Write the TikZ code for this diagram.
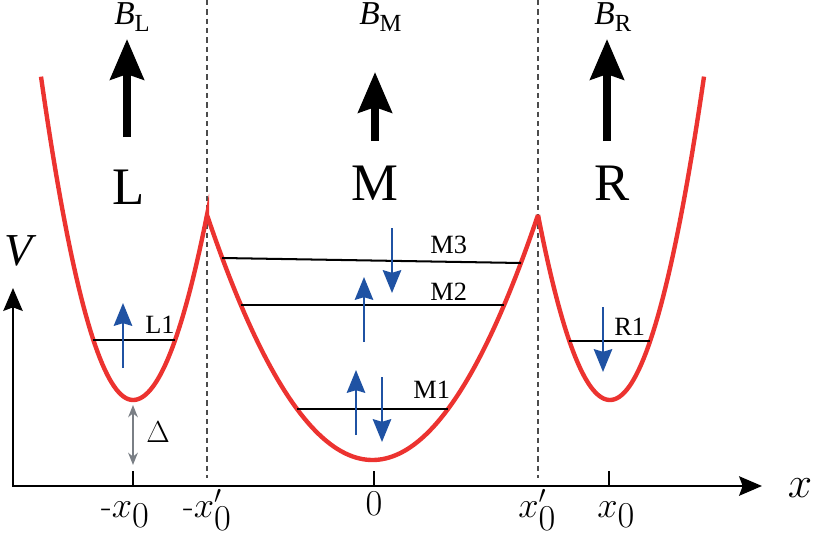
\documentclass[tikz,border=0pt]{standalone}
\usepackage{fontspec}
\newfontfamily\timesfont{Liberation Serif}
\usetikzlibrary{arrows.meta}

\definecolor{potred}{HTML}{EC3330}
\definecolor{spinblue}{HTML}{1F52A3}
\definecolor{gapgray}{HTML}{7A7F85}

\tikzset{
  redcurve/.style={draw=potred, line width=2.5pt},
  level/.style={line width=1.15pt},
  spin/.style={draw=spinblue, line width=1.2pt, -{Stealth[length=13pt,width=10.5pt,inset=1.5pt]}},
  field/.style={line width=4.5pt, -{Stealth[length=23pt,width=19pt,inset=3pt]}},
  axis/.style={line width=1.4pt, {Stealth[length=13pt,width=11pt,inset=2pt]}-{Stealth[length=13pt,width=11pt,inset=2pt]}},
  boundary/.style={draw=black!70, line width=0.7pt, dash pattern=on 3pt off 2.3pt},
  bigletter/.style={font=\timesfont\fontsize{30}{36}\selectfont, inner sep=0pt, anchor=base},
  fieldlbl/.style={font=\timesfont\fontsize{19}{22}\selectfont, inner sep=0pt, anchor=base west},
  levellbl/.style={font=\timesfont\fontsize{15}{18}\selectfont, inner sep=0pt, anchor=base west},
  ticklbl/.style={font=\fontsize{20}{24}\selectfont, inner sep=0pt, anchor=base west}
}

% vertical spin arrow: x, start y, tip y
\newcommand*{\SpinArrow}[3]{%
   \draw[spin] (#1,#2) -- (#1,#3);}
% field label with a larger subscript
\newcommand*{\FieldName}[1]{%
   \textit{B}\raisebox{-3.5pt}{\fontsize{14}{16}\selectfont #1}}

\begin{document}
\begin{tikzpicture}[x=0.02cm, y=-0.02cm]
            \useasboundingbox (0,0) rectangle (814,537);
            % region boundaries
            \foreach \d in {207,538}{
              \draw[boundary] (\d,0) -- (\d,478);
            }
            % axes
            \coordinate (O) at (13,486);
            \coordinate (ytip) at (13,288);
            \coordinate (xtip) at (762,486);
            \draw[axis] (ytip) -- (O) -- (xtip);
            \foreach \t in {133,374,609}{
              \draw[line width=1.2pt] (\t,471) -- (\t,486);
            }
            \node[inner sep=0pt, anchor=base, font=\timesfont\itshape\fontsize{26}{30}\selectfont] (vlbl) at (18,265) {V};
            \node[inner sep=0pt, anchor=base, font=\fontsize{25}{30}\selectfont] (xlbl) at (800,497) {$x$};
            \node[ticklbl] (mx0) at (101,517) {-$x_{\textstyle 0}$};
            \node[ticklbl] (mxp) at (183,517) {-$x'_{\textstyle 0}$};
            \node[ticklbl, anchor=base] (zero) at (374,515) {$0$};
            \node[ticklbl] (xp) at (518,517) {$x'_{\textstyle 0}$};
            \node[ticklbl] (x0) at (597,517) {$x_{\textstyle 0}$};
            % potential (offsets in units of 10px to keep numbers small)
            \draw[redcurve] plot[domain=41:133, samples=40] (\x,{400-3.82*((\x-133)/10)^2})
              -- plot[domain=133:207, samples=40] (\x,{400-3.38*((\x-133)/10)^2})
              -- plot[domain=207:538, samples=90] (\x,{460-0.8945*((\x-372.5)/10)^2})
              -- plot[domain=538:610, samples=40] (\x,{400-3.57*((\x-610)/10)^2})
              -- plot[domain=610:704, samples=40] (\x,{400-3.66*((\x-610)/10)^2});
            % levels
            \draw[level] (93,340) -- (175,340);
            \draw[level] (222,258) -- (521,263);
            \draw[level] (241,305) -- (504,305);
            \draw[level] (297,409) -- (448,409);
            \draw[level] (569,341) -- (650,341);
            \node[levellbl] (l1) at (145,333) {L1};
            \node[levellbl] (m3) at (430,253) {M3};
            \node[levellbl] (m2) at (430,300) {M2};
            \node[levellbl] (m1) at (413,398) {M1};
            \node[levellbl] (r1) at (614,335) {R1};
            % spins
            \SpinArrow{123}{368}{303}
            \SpinArrow{392}{228}{293}
            \SpinArrow{364}{342}{277}
            \SpinArrow{356}{435}{370}
            \SpinArrow{382}{377}{442}
            \SpinArrow{603}{307}{372}
            % gap
            \draw[draw=gapgray, line width=0.9pt, {Stealth[length=7pt,width=5.5pt]}-{Stealth[length=7pt,width=5.5pt]}] (133,405) -- (133,465);
            \node[inner sep=0pt, anchor=base west, font=\fontsize{16}{19}\selectfont] (gap) at (146,442) {$\Delta$};
            % fields
            \draw[field] (127,137) -- (127,39);
            \draw[field] (375,141) -- (375,72);
            \draw[field] (607,141) -- (607,39);
            \node[fieldlbl] (bl) at (114,25) {\FieldName{L}};
            \node[fieldlbl] (bm) at (359,25) {\FieldName{M}};
            \node[fieldlbl] (br) at (594,25) {\FieldName{R}};
            \node[bigletter] (lreg) at (129,204) {L};
            \node[bigletter] (mreg) at (375,200) {M};
            \node[bigletter] (rreg) at (612,200) {R};
          \end{tikzpicture}
\end{document}
